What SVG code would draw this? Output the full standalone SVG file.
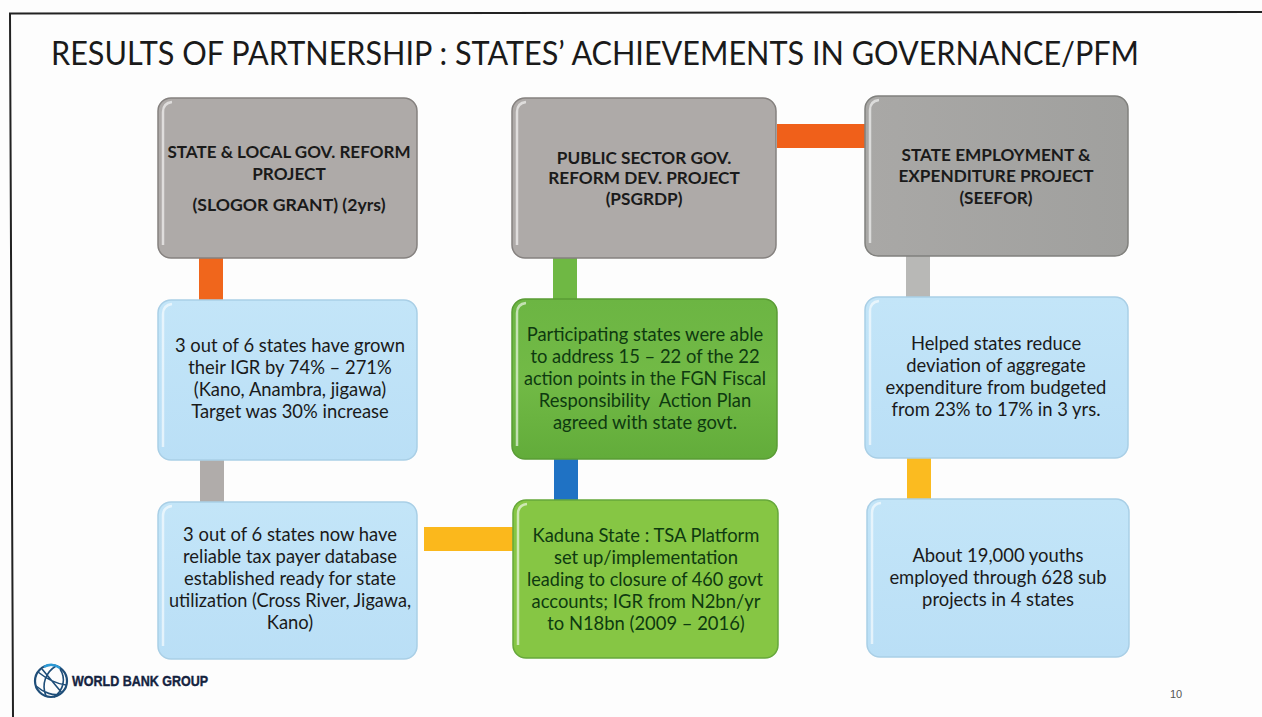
<svg xmlns="http://www.w3.org/2000/svg" width="1262" height="717" viewBox="0 0 1262 717">
<style>
text{font-family:"Lato","Carlito","Open Sans",sans-serif;text-anchor:middle;fill:#1a1a1a}
.t{font-size:17.2px;font-weight:700}
.b{font-size:18.4px}
.g{font-size:18.4px;fill:#0e3a10}
.box{stroke-width:1.5}
.grey{fill:#aeaaa8;stroke:#85817f}
.blue{fill:url(#bl);stroke:#a9cfe6}
.green{fill:url(#gn);stroke:#5a9c35}
.green2{fill:#86c644;stroke:#66a83a}
.hi{fill:none;stroke:#fff;stroke-opacity:.6;stroke-width:2.5}
</style>
<defs>
<linearGradient id="gr3" x1="0" y1="0" x2="1" y2="0"><stop offset="0" stop-color="#a9a8a6"/><stop offset="1" stop-color="#a0a09e"/></linearGradient>
<linearGradient id="bl" x1="0" y1="0" x2="0" y2="1"><stop offset="0" stop-color="#c3e5f8"/><stop offset="1" stop-color="#badff6"/></linearGradient>
<linearGradient id="gn" x1="0" y1="0" x2="0" y2="1"><stop offset="0" stop-color="#6cb543"/><stop offset=".5" stop-color="#72ba46"/><stop offset="1" stop-color="#62ac3a"/></linearGradient>
</defs>
<rect width="1262" height="717" fill="#fdfdfd"/>
<path d="M1262 12L10 13.500L13 717" fill="none" stroke="#222" stroke-width="2"/>
<text x="595" y="65" style="font-size:33px" textLength="1088" lengthAdjust="spacingAndGlyphs">RESULTS OF PARTNERSHIP : STATES’ ACHIEVEMENTS IN GOVERNANCE/PFM</text>

<g id="connectors">
<rect x="199" y="258" width="24" height="42" fill="#f0661c"/>
<rect x="200" y="460" width="24" height="42" fill="#b0acaa"/>
<rect x="553" y="258" width="24" height="41" fill="#6fb844"/>
<rect x="554" y="459" width="24" height="41" fill="#1f72c4"/>
<rect x="777" y="124" width="88" height="24" fill="#f0601a"/>
<rect x="906" y="256" width="24" height="41" fill="#b8b8b6"/>
<rect x="907" y="458" width="24" height="41" fill="#fbbb20"/>
<rect x="424" y="527" width="89" height="24" fill="#fbb81c"/>
</g>

<g id="n1"><rect class="box grey" x="158" y="98" width="259" height="160" rx="13"/><path class="hi" d="M163 245V112Q163 103 172 102"/>
<text class="t" x="289" y="158" textLength="243" lengthAdjust="spacingAndGlyphs">STATE &amp; LOCAL GOV. REFORM</text><text class="t" x="289" y="180">PROJECT</text><text class="t" x="289" y="211" textLength="193" lengthAdjust="spacingAndGlyphs">(SLOGOR GRANT) (2yrs)</text></g>

<g id="n2"><rect class="box grey" x="512" y="98" width="264" height="160" rx="13"/><path class="hi" d="M517 245V112Q517 103 526 102"/>
<text class="t" x="644" y="164">PUBLIC SECTOR GOV.</text><text class="t" x="644" y="184">REFORM DEV. PROJECT</text><text class="t" x="644" y="205">(PSGRDP)</text></g>

<g id="n3"><rect class="box" x="865" y="96" width="263" height="160" rx="13" fill="url(#gr3)" stroke="#80807d"/><path class="hi" d="M870 243V110Q870 101 879 100"/>
<text class="t" x="996" y="161">STATE EMPLOYMENT &amp;</text><text class="t" x="996" y="182">EXPENDITURE PROJECT</text><text class="t" x="996" y="204">(SEEFOR)</text></g>

<g id="n4"><rect class="box blue" x="158" y="300" width="259" height="160" rx="13"/><path class="hi" d="M163 447V314Q163 305 172 304"/>
<text class="b" x="290" y="352">3 out of 6 states have grown</text><text class="b" x="290" y="374">their IGR by 74% – 271%</text><text class="b" x="290" y="396">(Kano, Anambra, jigawa)</text><text class="b" x="290" y="418">Target was 30% increase</text></g>

<g id="n5"><rect class="box green" x="512" y="299" width="265" height="160" rx="13"/><path class="hi" d="M517 446V313Q517 304 526 303"/>
<text class="g" x="645" y="341">Participating states were able</text><text class="g" x="645" y="363">to address 15 – 22 of the 22</text><text class="g" x="645" y="385" textLength="242" lengthAdjust="spacingAndGlyphs">action points in the FGN Fiscal</text><text class="g" x="645" y="407" xml:space="preserve">Responsibility  Action Plan</text><text class="g" x="645" y="429">agreed with state govt.</text></g>

<g id="n6"><rect class="box blue" x="865" y="297" width="263" height="161" rx="13"/><path class="hi" d="M870 445V311Q870 302 879 301"/>
<text class="b" x="996" y="350">Helped states reduce</text><text class="b" x="996" y="372">deviation of aggregate</text><text class="b" x="996" y="394">expenditure from budgeted</text><text class="b" x="996" y="416">from 23% to 17% in 3 yrs.</text></g>

<g id="n7"><rect class="box blue" x="158" y="502" width="259" height="157" rx="13"/><path class="hi" d="M163 646V516Q163 507 172 506"/>
<text class="b" x="290" y="541">3 out of 6 states now have</text><text class="b" x="290" y="563">reliable tax payer database</text><text class="b" x="290" y="585">established ready for state</text><text class="b" x="290" y="607" textLength="242" lengthAdjust="spacingAndGlyphs">utilization (Cross River, Jigawa,</text><text class="b" x="290" y="629">Kano)</text></g>

<g id="n8"><rect class="box green2" x="513" y="500" width="265" height="158" rx="13"/><path class="hi" d="M518 645V514Q518 505 527 504"/>
<text class="g" x="646" y="542">Kaduna State : TSA Platform</text><text class="g" x="646" y="564">set up/implementation</text><text class="g" x="645" y="586" textLength="236" lengthAdjust="spacingAndGlyphs">leading to closure of 460 govt</text><text class="g" x="646" y="608">accounts; IGR from N2bn/yr</text><text class="g" x="646" y="630">to N18bn (2009 – 2016)</text></g>

<g id="n9"><rect class="box blue" x="867" y="499" width="262" height="158" rx="13"/><path class="hi" d="M872 644V513Q872 504 881 503"/>
<text class="b" x="998" y="562">About 19,000 youths</text><text class="b" x="998" y="584">employed through 628 sub</text><text class="b" x="998" y="606">projects in 4 states</text></g>

<g id="logo" fill="none" stroke="#1f4e79" stroke-width="1.6">
<circle cx="51" cy="681" r="16" stroke-width="2.2"/>
<path d="M38 672C48 680 58 684 66 685M36 686C44 693 54 696 60 694M56 666C46 672 41 684 46 696M60 669C66 678 64 690 54 697M42 669L62 693" />
<path d="M44 667Q52 662 60 668" stroke="#2c9ad6" stroke-width="2.4"/>
</g>
<text x="140" y="686" style="font-size:14.5px;font-weight:700;font-family:'Liberation Sans',sans-serif;fill:#14233f;stroke:#14233f;stroke-width:.4" textLength="136" lengthAdjust="spacingAndGlyphs">WORLD BANK GROUP</text>
<text x="1176" y="698" style="font-size:11px;font-family:'Liberation Sans',sans-serif;fill:#555">10</text>
</svg>
